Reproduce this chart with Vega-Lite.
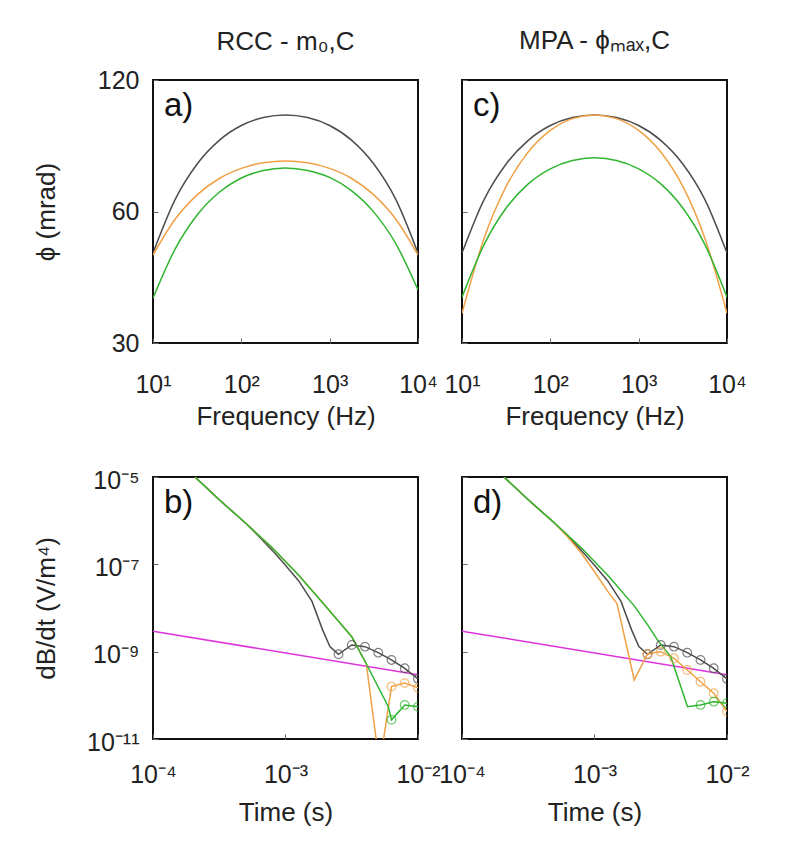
{
  "$schema": "https://vega.github.io/schema/vega-lite/v6.json",
  "background": "white",
  "padding": {"left": 31, "top": 26, "right": 5, "bottom": 5},
  "config": {
    "font": "Liberation Sans",
    "view": {"stroke": "#111111", "strokeWidth": 2},
    "axis": {"grid": false, "domain": false, "tickSize": -5, "tickColor": "#666666", "tickWidth": 1, "labelFontSize": 25, "labelColor": "#222222", "titleFontSize": 26, "titleFontWeight": "normal", "titleColor": "#222222", "labelFlush": false, "labelOverlap": false},
    "title": {"fontSize": 26, "fontWeight": "normal", "color": "#222222", "frame": "group", "baseline": "alphabetic"}
  },
  "datasets": {
    "phase": [
      {"p": "a", "s": "obs", "f": 10, "phi": 48.2}, {"p": "a", "s": "obs", "f": 17.78, "phi": 63.9}, {"p": "a", "s": "obs", "f": 31.62, "phi": 77.1}, {"p": "a", "s": "obs", "f": 56.23, "phi": 87.3}, {"p": "a", "s": "obs", "f": 100, "phi": 94.4}, {"p": "a", "s": "obs", "f": 177.8, "phi": 98.5}, {"p": "a", "s": "obs", "f": 316.2, "phi": 99.8}, {"p": "a", "s": "obs", "f": 562.3, "phi": 98.5}, {"p": "a", "s": "obs", "f": 1000, "phi": 94.4}, {"p": "a", "s": "obs", "f": 1778, "phi": 87.3}, {"p": "a", "s": "obs", "f": 3162, "phi": 77.1}, {"p": "a", "s": "obs", "f": 5623, "phi": 63.9}, {"p": "a", "s": "obs", "f": 10000, "phi": 48.2},
      {"p": "a", "s": "o", "f": 10, "phi": 47.7}, {"p": "a", "s": "o", "f": 17.78, "phi": 57.6}, {"p": "a", "s": "o", "f": 31.62, "phi": 65.5}, {"p": "a", "s": "o", "f": 56.23, "phi": 71.4}, {"p": "a", "s": "o", "f": 100, "phi": 75.3}, {"p": "a", "s": "o", "f": 177.8, "phi": 77.6}, {"p": "a", "s": "o", "f": 316.2, "phi": 78.3}, {"p": "a", "s": "o", "f": 562.3, "phi": 77.6}, {"p": "a", "s": "o", "f": 1000, "phi": 75.3}, {"p": "a", "s": "o", "f": 1778, "phi": 71.4}, {"p": "a", "s": "o", "f": 3162, "phi": 65.5}, {"p": "a", "s": "o", "f": 5623, "phi": 57.6}, {"p": "a", "s": "o", "f": 10000, "phi": 47.7},
      {"p": "a", "s": "g", "f": 10, "phi": 38.0}, {"p": "a", "s": "g", "f": 17.78, "phi": 49.2}, {"p": "a", "s": "g", "f": 31.62, "phi": 58.9}, {"p": "a", "s": "g", "f": 56.23, "phi": 66.4}, {"p": "a", "s": "g", "f": 100, "phi": 71.6}, {"p": "a", "s": "g", "f": 177.8, "phi": 74.5}, {"p": "a", "s": "g", "f": 316.2, "phi": 75.5}, {"p": "a", "s": "g", "f": 562.3, "phi": 74.5}, {"p": "a", "s": "g", "f": 1000, "phi": 71.8}, {"p": "a", "s": "g", "f": 1778, "phi": 66.9}, {"p": "a", "s": "g", "f": 3162, "phi": 59.8}, {"p": "a", "s": "g", "f": 5623, "phi": 50.6}, {"p": "a", "s": "g", "f": 10000, "phi": 39.7},
      {"p": "c", "s": "obs", "f": 10, "phi": 48.2}, {"p": "c", "s": "obs", "f": 17.78, "phi": 63.9}, {"p": "c", "s": "obs", "f": 31.62, "phi": 77.1}, {"p": "c", "s": "obs", "f": 56.23, "phi": 87.3}, {"p": "c", "s": "obs", "f": 100, "phi": 94.4}, {"p": "c", "s": "obs", "f": 177.8, "phi": 98.5}, {"p": "c", "s": "obs", "f": 316.2, "phi": 99.8}, {"p": "c", "s": "obs", "f": 562.3, "phi": 98.5}, {"p": "c", "s": "obs", "f": 1000, "phi": 94.4}, {"p": "c", "s": "obs", "f": 1778, "phi": 87.3}, {"p": "c", "s": "obs", "f": 3162, "phi": 77.1}, {"p": "c", "s": "obs", "f": 5623, "phi": 63.9}, {"p": "c", "s": "obs", "f": 10000, "phi": 48.2},
      {"p": "c", "s": "o", "f": 10, "phi": 35.1}, {"p": "c", "s": "o", "f": 17.78, "phi": 52.1}, {"p": "c", "s": "o", "f": 31.62, "phi": 68.5}, {"p": "c", "s": "o", "f": 56.23, "phi": 82.1}, {"p": "c", "s": "o", "f": 100, "phi": 92.0}, {"p": "c", "s": "o", "f": 177.8, "phi": 97.9}, {"p": "c", "s": "o", "f": 316.2, "phi": 99.8}, {"p": "c", "s": "o", "f": 562.3, "phi": 97.9}, {"p": "c", "s": "o", "f": 1000, "phi": 92.0}, {"p": "c", "s": "o", "f": 1778, "phi": 82.1}, {"p": "c", "s": "o", "f": 3162, "phi": 68.5}, {"p": "c", "s": "o", "f": 5623, "phi": 52.1}, {"p": "c", "s": "o", "f": 10000, "phi": 35.1},
      {"p": "c", "s": "g", "f": 10, "phi": 38.2}, {"p": "c", "s": "g", "f": 17.78, "phi": 50.4}, {"p": "c", "s": "g", "f": 31.62, "phi": 61.1}, {"p": "c", "s": "g", "f": 56.23, "phi": 69.4}, {"p": "c", "s": "g", "f": 100, "phi": 75.1}, {"p": "c", "s": "g", "f": 177.8, "phi": 78.5}, {"p": "c", "s": "g", "f": 316.2, "phi": 79.6}, {"p": "c", "s": "g", "f": 562.3, "phi": 78.5}, {"p": "c", "s": "g", "f": 1000, "phi": 75.1}, {"p": "c", "s": "g", "f": 1778, "phi": 69.4}, {"p": "c", "s": "g", "f": 3162, "phi": 61.1}, {"p": "c", "s": "g", "f": 5623, "phi": 50.4}, {"p": "c", "s": "g", "f": 10000, "phi": 38.2}
    ],
    "tem": [
      {"p": "bd", "s": "obs", "t": 2.075e-4, "v": 1e-5, "o": 0}, {"p": "bd", "s": "obs", "t": 3.162e-4, "v": 3.02e-6, "o": 0}, {"p": "bd", "s": "obs", "t": 5.012e-4, "v": 8.71e-7, "o": 0}, {"p": "bd", "s": "obs", "t": 6.31e-4, "v": 4.365e-7, "o": 0}, {"p": "bd", "s": "obs", "t": 7.943e-4, "v": 2.089e-7, "o": 0}, {"p": "bd", "s": "obs", "t": 1e-3, "v": 9.55e-8, "o": 0}, {"p": "bd", "s": "obs", "t": 1.259e-3, "v": 4.17e-8, "o": 0}, {"p": "bd", "s": "obs", "t": 1.585e-3, "v": 1.413e-8, "o": 0}, {"p": "bd", "s": "obs", "t": 1.905e-3, "v": 3.16e-9, "o": 0}, {"p": "bd", "s": "obs", "t": 2.163e-3, "v": 1.318e-9, "o": 0}, {"p": "bd", "s": "obs", "t": 2.512e-3, "v": 8.71e-10, "o": 1}, {"p": "bd", "s": "obs", "t": 3.162e-3, "v": 1.422e-9, "o": 1}, {"p": "bd", "s": "obs", "t": 3.981e-3, "v": 1.3e-9, "o": 1}, {"p": "bd", "s": "obs", "t": 5.012e-3, "v": 9.48e-10, "o": 1}, {"p": "bd", "s": "obs", "t": 6.31e-3, "v": 6.46e-10, "o": 1}, {"p": "bd", "s": "obs", "t": 7.943e-3, "v": 4.16e-10, "o": 1}, {"p": "bd", "s": "obs", "t": 1e-2, "v": 2.37e-10, "o": 1},
      {"p": "b", "s": "o", "t": 2.075e-4, "v": 1e-5, "o": 0}, {"p": "b", "s": "o", "t": 3.162e-4, "v": 3.02e-6, "o": 0}, {"p": "b", "s": "o", "t": 5.012e-4, "v": 8.71e-7, "o": 0}, {"p": "b", "s": "o", "t": 7.943e-4, "v": 2.4e-7, "o": 0}, {"p": "b", "s": "o", "t": 1.259e-3, "v": 5.62e-8, "o": 0}, {"p": "b", "s": "o", "t": 1.995e-3, "v": 1.12e-8, "o": 0}, {"p": "b", "s": "o", "t": 3.162e-3, "v": 2.19e-9, "o": 0}, {"p": "b", "s": "o", "t": 4.074e-3, "v": 5.25e-10, "o": 0}, {"p": "b", "s": "o", "t": 5.129e-3, "v": 2.51e-12, "o": 0}, {"p": "b", "s": "o", "t": 6.31e-3, "v": 1.585e-10, "o": 1}, {"p": "b", "s": "o", "t": 7.943e-3, "v": 1.905e-10, "o": 1}, {"p": "b", "s": "o", "t": 1e-2, "v": 1.479e-10, "o": 1},
      {"p": "b", "s": "g", "t": 2.075e-4, "v": 1e-5, "o": 0}, {"p": "b", "s": "g", "t": 3.162e-4, "v": 3.02e-6, "o": 0}, {"p": "b", "s": "g", "t": 5.012e-4, "v": 8.71e-7, "o": 0}, {"p": "b", "s": "g", "t": 7.943e-4, "v": 2.4e-7, "o": 0}, {"p": "b", "s": "g", "t": 1.259e-3, "v": 5.62e-8, "o": 0}, {"p": "b", "s": "g", "t": 1.995e-3, "v": 1.12e-8, "o": 0}, {"p": "b", "s": "g", "t": 3.162e-3, "v": 2.19e-9, "o": 0}, {"p": "b", "s": "g", "t": 3.981e-3, "v": 6.03e-10, "o": 0}, {"p": "b", "s": "g", "t": 5.97e-3, "v": 5.5e-11, "o": 0}, {"p": "b", "s": "g", "t": 6.31e-3, "v": 2.75e-11, "o": 1}, {"p": "b", "s": "g", "t": 7.943e-3, "v": 6.03e-11, "o": 1}, {"p": "b", "s": "g", "t": 1e-2, "v": 5.5e-11, "o": 1},
      {"p": "d", "s": "o", "t": 2.075e-4, "v": 1e-5, "o": 0}, {"p": "d", "s": "o", "t": 3.162e-4, "v": 3.02e-6, "o": 0}, {"p": "d", "s": "o", "t": 5.012e-4, "v": 8.71e-7, "o": 0}, {"p": "d", "s": "o", "t": 6.31e-4, "v": 4.17e-7, "o": 0}, {"p": "d", "s": "o", "t": 7.943e-4, "v": 1.82e-7, "o": 0}, {"p": "d", "s": "o", "t": 1e-3, "v": 6.76e-8, "o": 0}, {"p": "d", "s": "o", "t": 1.259e-3, "v": 2.4e-8, "o": 0}, {"p": "d", "s": "o", "t": 1.479e-3, "v": 1.259e-8, "o": 0}, {"p": "d", "s": "o", "t": 1.995e-3, "v": 2.24e-10, "o": 0}, {"p": "d", "s": "o", "t": 2.512e-3, "v": 8.85e-10, "o": 1}, {"p": "d", "s": "o", "t": 3.162e-3, "v": 1e-9, "o": 1}, {"p": "d", "s": "o", "t": 3.981e-3, "v": 7.05e-10, "o": 1}, {"p": "d", "s": "o", "t": 5.012e-3, "v": 3.8e-10, "o": 1}, {"p": "d", "s": "o", "t": 6.31e-3, "v": 2.05e-10, "o": 1}, {"p": "d", "s": "o", "t": 7.943e-3, "v": 1.114e-10, "o": 1}, {"p": "d", "s": "o", "t": 1e-2, "v": 4.27e-11, "o": 1},
      {"p": "d", "s": "g", "t": 2.075e-4, "v": 1e-5, "o": 0}, {"p": "d", "s": "g", "t": 3.162e-4, "v": 3.02e-6, "o": 0}, {"p": "d", "s": "g", "t": 5.012e-4, "v": 8.71e-7, "o": 0}, {"p": "d", "s": "g", "t": 7.943e-4, "v": 2.4e-7, "o": 0}, {"p": "d", "s": "g", "t": 1.259e-3, "v": 5.62e-8, "o": 0}, {"p": "d", "s": "g", "t": 1.995e-3, "v": 1.12e-8, "o": 0}, {"p": "d", "s": "g", "t": 2.512e-3, "v": 4.17e-9, "o": 0}, {"p": "d", "s": "g", "t": 2.985e-3, "v": 1.862e-9, "o": 0}, {"p": "d", "s": "g", "t": 3.767e-3, "v": 7.59e-10, "o": 0}, {"p": "d", "s": "g", "t": 5.035e-3, "v": 5.5e-11, "o": 0}, {"p": "d", "s": "g", "t": 6.31e-3, "v": 6.03e-11, "o": 1}, {"p": "d", "s": "g", "t": 7.943e-3, "v": 7.16e-11, "o": 1}, {"p": "d", "s": "g", "t": 1e-2, "v": 6.61e-11, "o": 1}
    ],
    "floor": [{"t": 1e-4, "v": 2.95e-9}, {"t": 1e-2, "v": 2.95e-10}]
  },
  "columns": 2,
  "spacing": {"row": 134, "column": 44},
  "bounds": "flush",
  "concat": [
    {
      "width": 265, "height": 263,
      "title": {"text": "RCC - m₀,C", "offset": 13},
      "layer": [
        {
          "data": {"name": "phase"},
          "transform": [{"filter": "datum.p == 'a'"}],
          "mark": {"type": "line", "interpolate": "monotone", "strokeWidth": 1.5, "clip": true},
          "encoding": {
            "x": {"field": "f", "type": "quantitative", "scale": {"type": "log", "domain": [10, 10000], "nice": false},
                  "axis": {"values": [10, 100, 1000, 10000], "labelExpr": "datum.value < 50 ? '10¹' : datum.value < 500 ? '10²' : datum.value < 5000 ? '10³' : '10⁴'", "title": "Frequency (Hz)", "labelPadding": 34, "titleBaseline": "top", "titleY": 60}},
            "y": {"field": "phi", "type": "quantitative", "scale": {"type": "log", "domain": [30, 120], "nice": false},
                  "axis": {"values": [30, 60, 120], "format": "d", "title": "ϕ (mrad)", "labelPadding": 19, "titleX": -107, "titleBaseline": "middle"}},
            "color": {"field": "s", "type": "nominal", "scale": {"domain": ["obs", "o", "g"], "range": ["#4d4d4d", "#f0a045", "#2fb52f"]}, "legend": null}
          }
        },
        {
          "data": {"values": [{}]},
          "mark": {"type": "text", "text": "a)", "align": "left", "baseline": "top", "dx": 11, "dy": 10, "fontSize": 33, "color": "#111111"},
          "encoding": {"x": {"datum": 10}, "y": {"datum": 120}}
        }
      ]
    },
    {
      "width": 265, "height": 263,
      "title": {"text": "MPA - ϕₘₐₓ,C", "offset": 26},
      "layer": [
        {
          "data": {"name": "phase"},
          "transform": [{"filter": "datum.p == 'c'"}],
          "mark": {"type": "line", "interpolate": "monotone", "strokeWidth": 1.5, "clip": true},
          "encoding": {
            "x": {"field": "f", "type": "quantitative", "scale": {"type": "log", "domain": [10, 10000], "nice": false},
                  "axis": {"values": [10, 100, 1000, 10000], "labelExpr": "datum.value < 50 ? '10¹' : datum.value < 500 ? '10²' : datum.value < 5000 ? '10³' : '10⁴'", "title": "Frequency (Hz)", "labelPadding": 34, "titleBaseline": "top", "titleY": 60}},
            "y": {"field": "phi", "type": "quantitative", "scale": {"type": "log", "domain": [30, 120], "nice": false},
                  "axis": {"values": [30, 60, 120], "labels": false, "title": null}},
            "color": {"field": "s", "type": "nominal", "scale": {"domain": ["obs", "o", "g"], "range": ["#4d4d4d", "#f0a045", "#2fb52f"]}, "legend": null}
          }
        },
        {
          "data": {"values": [{}]},
          "mark": {"type": "text", "text": "c)", "align": "left", "baseline": "top", "dx": 11, "dy": 10, "fontSize": 33, "color": "#111111"},
          "encoding": {"x": {"datum": 10}, "y": {"datum": 120}}
        }
      ]
    },
    {
      "width": 265, "height": 262,
      "layer": [
        {
          "data": {"name": "floor"},
          "mark": {"type": "line", "color": "#dd33dd", "strokeWidth": 1.5, "clip": true},
          "encoding": {
            "x": {"field": "t", "type": "quantitative", "scale": {"type": "log", "domain": [1e-4, 1e-2], "nice": false},
                  "axis": {"values": [1e-4, 1e-3, 1e-2], "labelExpr": "datum.value < 5e-4 ? '10⁻⁴' : datum.value < 5e-3 ? '10⁻³' : '10⁻²'", "title": "Time (s)", "labelPadding": 28, "titleBaseline": "top", "titleY": 60}},
            "y": {"field": "v", "type": "quantitative", "scale": {"type": "log", "domain": [1e-11, 1e-5], "nice": false},
                  "axis": {"values": [1e-11, 1e-9, 1e-7, 1e-5], "labelExpr": "datum.value > 5e-6 ? '10⁻⁵' : datum.value > 5e-8 ? '10⁻⁷' : datum.value > 5e-10 ? '10⁻⁹' : '10⁻¹¹'", "title": "dB/dt (V/m⁴)", "labelPadding": 19, "labelOffset": 3, "titleX": -107, "titleBaseline": "middle"}}
          }
        },
        {
          "data": {"name": "tem"},
          "transform": [{"filter": "indexof(datum.p, 'b') >= 0"}],
          "mark": {"type": "line", "strokeWidth": 1.5, "clip": true},
          "encoding": {
            "x": {"field": "t", "type": "quantitative"},
            "y": {"field": "v", "type": "quantitative"},
            "color": {"field": "s", "type": "nominal", "scale": {"domain": ["obs", "o", "g"], "range": ["#4d4d4d", "#f0a045", "#2fb52f"]}, "legend": null}
          }
        },
        {
          "data": {"name": "tem"},
          "transform": [{"filter": "indexof(datum.p, 'b') >= 0 && datum.o == 1"}],
          "mark": {"type": "point", "filled": false, "size": 75, "strokeWidth": 1.2, "clip": true},
          "encoding": {
            "x": {"field": "t", "type": "quantitative"},
            "y": {"field": "v", "type": "quantitative"},
            "color": {"field": "s", "type": "nominal", "scale": {"domain": ["obs", "o", "g"], "range": ["#4d4d4d", "#f0a045", "#2fb52f"]}, "legend": null}
          }
        },
        {
          "data": {"values": [{}]},
          "mark": {"type": "text", "text": "b)", "align": "left", "baseline": "top", "dx": 11, "dy": 10, "fontSize": 33, "color": "#111111"},
          "encoding": {"x": {"datum": 1e-4}, "y": {"datum": 1e-5}}
        }
      ]
    },
    {
      "width": 265, "height": 262,
      "layer": [
        {
          "data": {"name": "floor"},
          "mark": {"type": "line", "color": "#dd33dd", "strokeWidth": 1.5, "clip": true},
          "encoding": {
            "x": {"field": "t", "type": "quantitative", "scale": {"type": "log", "domain": [1e-4, 1e-2], "nice": false},
                  "axis": {"values": [1e-4, 1e-3, 1e-2], "labelExpr": "datum.value < 5e-4 ? '10⁻⁴' : datum.value < 5e-3 ? '10⁻³' : '10⁻²'", "title": "Time (s)", "labelPadding": 28, "titleBaseline": "top", "titleY": 60}},
            "y": {"field": "v", "type": "quantitative", "scale": {"type": "log", "domain": [1e-11, 1e-5], "nice": false},
                  "axis": {"values": [1e-11, 1e-9, 1e-7, 1e-5], "labels": false, "title": null}}
          }
        },
        {
          "data": {"name": "tem"},
          "transform": [{"filter": "indexof(datum.p, 'd') >= 0"}],
          "mark": {"type": "line", "strokeWidth": 1.5, "clip": true},
          "encoding": {
            "x": {"field": "t", "type": "quantitative"},
            "y": {"field": "v", "type": "quantitative"},
            "color": {"field": "s", "type": "nominal", "scale": {"domain": ["obs", "o", "g"], "range": ["#4d4d4d", "#f0a045", "#2fb52f"]}, "legend": null}
          }
        },
        {
          "data": {"name": "tem"},
          "transform": [{"filter": "indexof(datum.p, 'd') >= 0 && datum.o == 1"}],
          "mark": {"type": "point", "filled": false, "size": 75, "strokeWidth": 1.2, "clip": true},
          "encoding": {
            "x": {"field": "t", "type": "quantitative"},
            "y": {"field": "v", "type": "quantitative"},
            "color": {"field": "s", "type": "nominal", "scale": {"domain": ["obs", "o", "g"], "range": ["#4d4d4d", "#f0a045", "#2fb52f"]}, "legend": null}
          }
        },
        {
          "data": {"values": [{}]},
          "mark": {"type": "text", "text": "d)", "align": "left", "baseline": "top", "dx": 11, "dy": 10, "fontSize": 33, "color": "#111111"},
          "encoding": {"x": {"datum": 1e-4}, "y": {"datum": 1e-5}}
        }
      ]
    }
  ]
}
